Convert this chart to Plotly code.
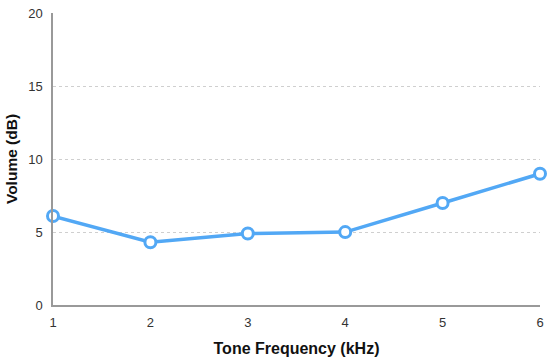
import plotly.graph_objects as go

freq_khz = [1, 2, 3, 4, 5, 6]
volume_db = [6.1, 4.3, 4.9, 5.0, 7.0, 9.0]
y_ticks = [0, 5, 10, 15, 20]

blue = "#52a8f5"

fig = go.Figure(go.Scatter(
    x=freq_khz, y=volume_db, mode="lines+markers",
    line=dict(color=blue, width=3.5),
    marker=dict(size=11, color="white", line=dict(color=blue, width=3)),
    cliponaxis=False,
))

fig.update_layout(
    width=550, height=359,
    margin=dict(l=53, r=10, t=13, b=54),
    paper_bgcolor="white", plot_bgcolor="white",
    font=dict(family="Liberation Sans, Arial, sans-serif", size=13, color="#333"),
    showlegend=False,
)
fig.update_xaxes(
    range=[1, 6], tickvals=freq_khz, showgrid=False, zeroline=False, automargin=False,
    showline=True, linecolor="#999", linewidth=2, ticks="", ticklabelstandoff=4,
    title=dict(text="<b>Tone Frequency (kHz)</b>", font=dict(size=16, color="#111"), standoff=14),
)
fig.update_yaxes(
    range=[0, 20.03], tickvals=y_ticks, showgrid=True, gridcolor="#cfcfcf",
    griddash="dot", gridwidth=1, zeroline=False, automargin=False,
    showline=True, linecolor="#999", linewidth=1.5, ticks="", ticklabelstandoff=6,
    title=dict(text="<b>Volume (dB)</b>", font=dict(size=15.5, color="#111"), standoff=7),
)

fig.write_html(
    "out.html",
    config={"displayModeBar": False},
    post_script="document.body.style.margin='0';document.body.style.overflow='hidden';",
)
